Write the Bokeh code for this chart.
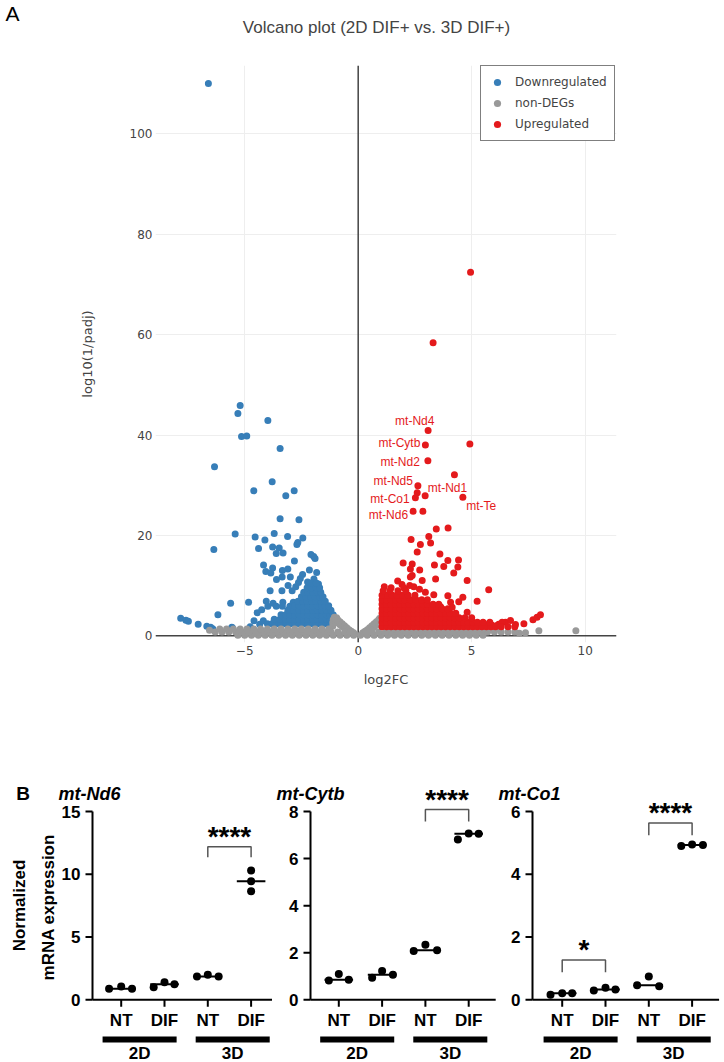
import numpy as np
from bokeh.plotting import figure
from bokeh.models import Range1d, Legend, LegendItem, Span, FixedTicker, ColumnDataSource
from bokeh.layouts import column, row
from bokeh.core.properties import value
from bokeh.embed import file_html
from bokeh.resources import INLINE

# ===================== Panel A data (log2FC, log10(1/padj)) =====================
down_points = [
    (-6.60, 110.0), (-5.20, 45.9), (-5.30, 44.3), (-3.98, 42.9), (-5.14, 39.7), (-4.91, 39.8),
    (-3.44, 37.3), (-6.33, 33.7), (-3.79, 30.7), (-4.60, 28.9), (-2.82, 28.9), (-3.19, 27.9),
    (-3.44, 23.3), (-2.61, 23.1), (-5.42, 20.3), (-3.70, 20.4), (-4.54, 19.7), (-3.11, 19.8),
    (-2.44, 19.5), (-4.11, 19.1), (-2.66, 18.6), (-2.70, 18.2), (-6.36, 17.2), (-4.39, 17.4),
    (-3.77, 17.7), (-3.48, 17.5), (-3.61, 16.4), (-3.31, 16.5), (-2.08, 16.2), (-1.96, 15.8),
    (-1.90, 15.4), (-2.81, 14.9), (-4.17, 14.1), (-4.07, 12.8), (-3.77, 13.5), (-3.85, 12.5),
    (-3.34, 13.0), (-3.10, 13.3), (-2.15, 13.1), (-1.83, 12.6), (-2.45, 12.2), (-3.35, 11.7),
    (-3.60, 11.2), (-2.99, 11.7), (-2.63, 10.6), (-2.23, 10.7), (-3.36, 9.0), (-3.09, 10.0),
    (-3.88, 9.0), (-2.91, 9.0), (-5.62, 6.5), (-4.83, 6.7), (-6.18, 4.2), (-7.82, 3.5),
    (-7.59, 3.1), (-7.48, 2.9), (-7.05, 2.3), (-6.67, 1.9), (-6.50, 1.7), (-6.41, 1.4),
    (-5.54, 1.6), (-4.05, 6.9), (-3.98, 5.9), (-3.75, 6.5), (-3.61, 5.9), (-4.59, 3.0),
    (-4.76, 1.8), (-5.57, 1.7), (-4.34, 2.3), (-4.18, 3.0), (-3.32, 6.7), (-3.34, 5.9),
    (-3.01, 5.9), (-2.86, 6.7), (-4.45, 4.6), (-4.25, 5.2), (-2.55, 11.4), (-1.95, 11.3),
    (-1.75, 10.3), (-2.75, 9.8),
]
down_rows = [
    (2.4, [-4.0, -3.8, -3.6, -3.4, -3.2, -3.0, -2.8, -2.6, -2.4, -2.2, -2.0, -1.8, -1.6, -1.4, -1.25, -1.1]),
    (3.3, [-3.7, -3.45, -3.2, -3.0, -2.8, -2.6, -2.4, -2.2, -2.0, -1.8, -1.6, -1.4, -1.25, -1.1]),
    (4.2, [-3.4, -3.2, -3.0, -2.8, -2.6, -2.4, -2.2, -2.0, -1.8, -1.6, -1.4, -1.25, -1.1]),
    (5.1, [-3.1, -2.85, -2.6, -2.4, -2.2, -2.0, -1.8, -1.6, -1.4, -1.2]),
    (6.0, [-2.8, -2.6, -2.4, -2.2, -2.0, -1.8, -1.6, -1.45, -1.3]),
    (6.9, [-2.65, -2.45, -2.25, -2.05, -1.85, -1.65, -1.45]),
    (7.8, [-2.5, -2.3, -2.1, -1.9, -1.7, -1.55]),
    (8.7, [-2.4, -2.2, -2.0, -1.8, -1.65]),
    (9.6, [-2.25, -2.05, -1.85, -1.7]),
    (10.5, [-2.1, -1.85]),
]
nondeg_points = [
    (7.10, 0.5), (7.37, 0.6), (7.96, 1.0), (9.59, 1.0), (-6.55, 1.1),
    (-1.12, 1.9), (-1.12, 2.6), (-1.10, 3.2), (-1.05, 3.7), (-1.00, 3.0), (-0.95, 3.6),
    (-0.90, 2.6), (-0.90, 3.2), (-0.80, 2.2), (-0.80, 2.8), (-0.70, 1.8), (-0.70, 2.4),
    (-0.60, 2.0), (-0.50, 1.6), (-0.40, 1.2), (-0.30, 0.9), (-0.20, 0.6), (0.20, 0.6),
    (0.30, 0.9), (0.40, 1.2), (0.50, 1.6), (0.60, 2.0), (0.70, 1.7), (0.70, 2.4),
    (0.80, 2.1), (0.80, 2.8), (0.90, 2.5), (0.90, 3.2), (0.95, 3.5),
]
nondeg_rows = [
    (0.1, [-5.3, -5.0, -4.7, -4.4, -4.1, -3.8, -3.5, -3.2, -2.9, -2.6, -2.3, -2.0, -1.7, -1.4, -1.1,
           -0.8, -0.5, -0.2, 0.1, 0.4, 0.7, 1.0, 1.3, 1.6, 1.9, 2.2, 2.5, 2.8, 3.1, 3.4, 3.7, 4.0,
           4.3, 4.6, 4.9, 5.2, 5.5]),
    (0.75, [-6.3, -6.0, -5.7, -5.4, -5.1, -4.8, -4.5, -4.2, -3.9, -3.6, -3.3, -3.0, -2.7, -2.4, -2.1,
            -1.8, -1.5, -1.2, -0.9, -0.6, -0.35, 0.35, 0.6, 0.9, 1.2, 1.5, 1.8, 2.1, 2.4, 2.7, 3.0,
            3.3, 3.6, 3.9, 4.2, 4.5, 4.8, 5.1, 5.4, 5.7, 6.0, 6.3, 6.6, 6.9]),
    (1.35, [-6.1, -5.8, -5.5, -5.2, -4.9, -4.6, -4.3, -4.0, -3.7, -3.4, -3.1, -2.8, -2.5, -2.2, -1.9,
            -1.6, -1.3, 1.3, 1.6, 1.9, 2.2, 2.5, 2.8, 3.1, 3.4, 3.7, 4.0, 4.3, 4.6, 4.9, 5.2, 5.5,
            5.8, 6.1]),
]
up_points = [
    (4.95, 72.4), (3.30, 58.4), (2.60, 28.5), (4.92, 38.2), (4.24, 32.1), (2.85, 24.8),
    (3.44, 21.3), (3.96, 21.5), (3.11, 19.8), (2.33, 19.2), (2.74, 18.2), (3.19, 18.5),
    (2.60, 16.7), (3.60, 16.3), (3.95, 15.0), (4.42, 15.1), (1.98, 14.5), (2.38, 14.3),
    (2.30, 13.3), (3.36, 14.1), (3.77, 13.8), (4.39, 13.7), (2.71, 13.1), (4.21, 12.5),
    (2.38, 12.0), (2.82, 11.0), (3.41, 11.3), (4.80, 11.0), (1.74, 10.9), (1.93, 10.2),
    (2.01, 9.6), (2.30, 11.7), (2.27, 10.0), (2.45, 9.8), (2.96, 8.7), (3.33, 8.2),
    (3.95, 8.0), (4.61, 7.7), (5.75, 9.2), (5.24, 6.9), (4.07, 6.7), (4.43, 6.8),
    (3.63, 5.8), (4.14, 5.7), (4.80, 4.7), (5.53, 2.5), (5.90, 2.1), (6.19, 2.3),
    (6.49, 2.7), (6.12, 2.05), (6.34, 2.7), (6.71, 3.05), (6.93, 2.25), (7.30, 2.4),
    (7.70, 3.2), (7.88, 3.7), (8.03, 4.2), (1.15, 9.8), (1.45, 9.6), (2.70, 9.3),
]
up_rows = [
    (1.8, [1.05, 1.25, 1.45, 1.65, 1.85, 2.05, 2.25, 2.45, 2.65, 2.85, 3.05, 3.25, 3.45, 3.65, 3.85,
           4.05, 4.25, 4.45, 4.65, 4.85, 5.05, 5.25, 5.45, 5.65, 5.85, 6.05, 6.3, 6.6, 6.9]),
    (2.7, [1.05, 1.25, 1.45, 1.65, 1.85, 2.05, 2.25, 2.45, 2.65, 2.85, 3.05, 3.25, 3.45, 3.65, 3.85,
           4.05, 4.25, 4.45, 4.65, 4.85, 5.05, 5.25, 5.5, 5.8]),
    (3.6, [1.05, 1.25, 1.45, 1.65, 1.85, 2.05, 2.25, 2.45, 2.65, 2.85, 3.05, 3.25, 3.45, 3.65, 3.85,
           4.05, 4.25, 4.45, 4.7, 5.0]),
    (4.5, [1.05, 1.25, 1.45, 1.65, 1.85, 2.05, 2.25, 2.45, 2.65, 2.85, 3.05, 3.25, 3.45, 3.65, 3.85,
           4.05, 4.3]),
    (5.4, [1.05, 1.25, 1.45, 1.65, 1.85, 2.05, 2.25, 2.45, 2.65, 2.85, 3.05, 3.25, 3.45, 3.7, 3.95]),
    (6.3, [1.05, 1.25, 1.45, 1.65, 1.85, 2.05, 2.25, 2.45, 2.65, 2.85, 3.05, 3.3, 3.55]),
    (7.2, [1.05, 1.25, 1.45, 1.65, 1.85, 2.05, 2.3, 2.55, 2.8, 3.05]),
    (8.1, [1.05, 1.3, 1.5, 1.7, 1.95, 2.2, 2.5]),
    (9.0, [1.1, 1.4, 1.75, 2.1]),
]
gene_names = ["mt-Nd4", "mt-Cytb", "mt-Nd2", "mt-Nd5", "mt-Co1", "mt-Nd6", "mt-Nd1", "mt-Te"]
gene_x = [3.08, 2.96, 3.07, 2.63, 2.52, 2.42, 2.95, 4.61]
gene_y = [40.9, 38.0, 34.9, 29.9, 27.5, 24.8, 27.9, 27.6]
legend_labels = ["Downregulated", "non-DEGs", "Upregulated"]
x_ticks_A = [-5, 0, 5, 10]
y_ticks_A = [0, 20, 40, 60, 80, 100]
title_A = "Volcano plot (2D DIF+ vs. 3D DIF+)"

# ===================== Panel B data (normalized mRNA expression) =====================
conditions = ["NT", "DIF", "NT", "DIF"]
cultures = ["2D", "3D"]
genes_B = ["mt-Nd6", "mt-Cytb", "mt-Co1"]
nd6_values = [[0.88, 1.06, 0.88], [1.00, 1.40, 1.24], [1.86, 2.00, 1.86], [10.30, 9.45, 8.65]]
cytb_values = [[0.82, 1.10, 0.85], [0.94, 1.22, 1.06], [2.07, 2.34, 2.10], [6.81, 7.07, 7.05]]
co1_values = [[0.16, 0.21, 0.21], [0.30, 0.38, 0.33], [0.46, 0.74, 0.43], [4.90, 4.95, 4.93]]
y_max_B = [15, 8, 6]
y_step_B = [5, 2, 2]
# significance brackets: (group a, group b, bracket top, leg bottom, label)
nd6_sig = [(2, 3, 12.2, 11.36, "****")]
cytb_sig = [(2, 3, 8.08, 7.57, "****")]
co1_sig = [(0, 1, 1.27, 0.88, "*"), (2, 3, 5.63, 5.24, "****")]
y_label_B = ["Normalized", "mRNA expression"]

# ----- styling / layout -----
BLUE, GREY, RED = "#377eb8", "#999999", "#e41a1c"
TXT = "#444444"
label_dx = [6.3, -5, -8, -5, -5.7, -5, 2.7, 3.3]
label_dy = [-9.3, -2, 1, -4.7, 1.7, 4, -7.3, 8.7]
label_right = [True, True, True, True, True, True, False, False]
jitter_B = [
    [[-0.28, 0, 0.25], [-0.25, 0, 0.23], [-0.25, 0, 0.25], [0, 0, 0]],
    [[-0.23, 0, 0.23], [-0.23, 0, 0.25], [-0.27, 0, 0.27], [-0.25, 0, 0.23]],
    [[-0.27, 0, 0.23], [-0.27, 0, 0.23], [-0.27, 0, 0.24], [-0.25, 0, 0.25]],
]


def expand(points, rows):
    xs = [p[0] for p in points]
    ys = [p[1] for p in points]
    for yv, row_xs in rows:
        xs.extend(row_xs)
        ys.extend([yv] * len(row_xs))
    return xs, ys


# ===================== Header of panel A ("A" + title) =====================
hdr = figure(width=724, height=65, title=None, x_range=Range1d(0, 724), y_range=Range1d(65, 0),
             x_axis_type=None, y_axis_type=None, min_border=0,
             min_border_left=0, min_border_right=0, min_border_top=0, min_border_bottom=0,
             output_backend="svg", toolbar_location=None)
hdr.outline_line_color = None
hdr.text(x=[5], y=[1], text=["A"], text_align="left", text_baseline="top",
         text_font=value("Liberation Sans"), text_font_size="21px", text_color="black")
hdr.text(x=[376], y=[27], text=[title_A], text_align="center", text_baseline="middle",
         text_font=value("Liberation Sans"), text_font_size="17px", text_color=TXT)

# ===================== Panel A =====================
pA = figure(width=724, height=705, title=None,
            x_range=Range1d(-8.93, 11.38), y_range=Range1d(-1.33, 113.61),
            min_border_left=155, min_border_right=108, min_border_top=0, min_border_bottom=128,
            output_backend="svg", toolbar_location=None)
pA.outline_line_color = None
pA.xgrid.grid_line_color = "#eeeeee"
pA.ygrid.grid_line_color = "#eeeeee"
pA.xaxis.ticker = FixedTicker(ticks=x_ticks_A)
pA.xaxis.major_label_overrides = {-5: "\u22125"}
pA.yaxis.ticker = FixedTicker(ticks=y_ticks_A)
for ax in (pA.xaxis[0], pA.yaxis[0]):
    ax.axis_line_color = None
    ax.major_tick_line_color = None
    ax.minor_tick_line_color = None
    ax.major_tick_out = 0
    ax.major_tick_in = 0
    ax.major_label_text_font = "DejaVu Sans"
    ax.major_label_text_font_size = "12px"
    ax.major_label_text_color = TXT
    ax.major_label_standoff = 3
    ax.axis_label_text_font = "DejaVu Sans"
    ax.axis_label_text_font_size = "13px"
    ax.axis_label_text_font_style = "normal"
    ax.axis_label_text_color = TXT
pA.xaxis.axis_label = "log2FC"
pA.xaxis.axis_label_standoff = 14
pA.yaxis.axis_label = "log10(1/padj)"
pA.yaxis.axis_label_standoff = 32

pA.add_layout(Span(location=0, dimension="height", line_color=TXT, line_width=1.5, level="underlay"))
pA.add_layout(Span(location=0, dimension="width", line_color=TXT, line_width=1.5, level="underlay"))

dx, dy = expand(down_points, down_rows)
r_down = pA.scatter(dx, dy, size=7, fill_color=BLUE, line_color=None)
gx, gy = expand(nondeg_points, nondeg_rows)
r_grey = pA.scatter(gx, gy, size=7, fill_color=GREY, line_color=None)
ux, uy = expand(up_points, up_rows)
r_up = pA.scatter(ux + gene_x, uy + gene_y, size=7, fill_color=RED, line_color=None)

for right in (True, False):
    idx = [i for i in range(len(gene_names)) if label_right[i] == right]
    src = ColumnDataSource(dict(x=[gene_x[i] for i in idx], y=[gene_y[i] for i in idx],
                                t=[gene_names[i] for i in idx],
                                ox=[label_dx[i] for i in idx], oy=[label_dy[i] for i in idx]))
    pA.text(x="x", y="y", text="t", x_offset="ox", y_offset="oy", source=src,
            text_align="right" if right else "left", text_baseline="middle",
            text_font=value("Liberation Sans"), text_font_size="12px", text_color=RED)

legend = Legend(items=[LegendItem(label=legend_labels[0], renderers=[r_down]),
                       LegendItem(label=legend_labels[1], renderers=[r_grey]),
                       LegendItem(label=legend_labels[2], renderers=[r_up])],
                location=(325, 501), orientation="vertical", margin=0, padding=7, spacing=3,
                glyph_width=18, glyph_height=18, label_height=18, label_standoff=9,
                label_text_font="DejaVu Sans", label_text_font_size="12px", label_text_color=TXT,
                border_line_color="black", border_line_width=1,
                background_fill_color="white", background_fill_alpha=1.0)
pA.add_layout(legend)

# ===================== Panel B =====================
B_H = 292          # canvas height (page y 770..1062)
AX0 = 229.3        # canvas y of value 0
AXTOP = 41.0       # canvas y of the top tick
S = 43.3           # px per category
B_W = [272, 224, 228]
B_NT = [120.7, 66.3, 65.7]    # first category, px from canvas left
B_AX = [92.0, 38.0, 36.0]     # y axis, px from canvas left
values_B = [nd6_values, cytb_values, co1_values]
sigs_B = [nd6_sig, cytb_sig, co1_sig]
BF = "Liberation Sans"


def panel_B(i):
    vals = values_B[i]
    jit = jitter_B[i]
    ymax, step = y_max_B[i], y_step_B[i]
    w = B_W[i]
    ppu = (AX0 - AXTOP) / ymax
    x0 = -B_NT[i] / S
    axx = (B_AX[i] - B_NT[i]) / S
    p = figure(width=w, height=B_H, title=None,
               x_range=Range1d(x0, x0 + w / S),
               y_range=Range1d(-(B_H - AX0) / ppu, AX0 / ppu),
               x_axis_type=None, y_axis_type=None, min_border=0,
               output_backend="svg", toolbar_location=None)
    p.extra_y_ranges = {"px": Range1d(-(B_H - AX0), AX0)}
    p.outline_line_color = None

    tf = dict(text_font=value(BF), text_font_style="bold", text_font_size="17px",
              text_color="black", text_align="center", text_baseline="middle")
    # y axis
    ticks = list(range(0, ymax + 1, step))
    p.segment(x0=[axx], y0=[0], x1=[axx], y1=[ymax], line_width=2, line_color="black")
    p.segment(x0=[axx - 7 / S] * len(ticks), y0=ticks, x1=[axx] * len(ticks), y1=ticks,
              line_width=2, line_color="black")
    p.text(x=[axx] * len(ticks), y=ticks, text=[str(t) for t in ticks], x_offset=-12,
           text_font=value(BF), text_font_style="bold", text_font_size="17px",
           text_color="black", text_align="right", text_baseline="middle")
    # x axis line, ticks and labels
    cat_pos = list(range(len(conditions)))
    p.segment(x0=[axx], y0=[0], x1=[3 + 27 / S], y1=[0], line_width=2, line_color="black")
    p.segment(x0=cat_pos, y0=[0] * 4, x1=cat_pos, y1=[-7] * 4, y_range_name="px",
              line_width=2, line_color="black")
    p.text(x=cat_pos, y=[-20.7] * 4, text=conditions, y_range_name="px", **tf)
    p.segment(x0=[-0.43, 1.72], y0=[-39.7] * 2, x1=[1.28, 3.43], y1=[-39.7] * 2, y_range_name="px",
              line_width=6, line_color="black")
    p.text(x=[0.425, 2.575], y=[-53.7] * 2, text=cultures, y_range_name="px", **tf)

    # points and medians
    xs, ys = [], []
    for g in range(4):
        for k, v in enumerate(vals[g]):
            xs.append(g + jit[g][k])
            ys.append(v)
    p.scatter(xs, ys, size=8, fill_color="black", line_color=None)
    meds = [float(np.median(v)) for v in vals]
    p.segment(x0=[g - 0.33 for g in range(4)], y0=meds, x1=[g + 0.33 for g in range(4)], y1=meds,
              line_width=2, line_color="black")

    # significance
    for (a, b, top, leg, lab) in sigs_B[i]:
        p.line([a, a, b, b], [leg, top, top, leg], line_color="#555555", line_width=1.5)
        p.text(x=[(a + b) / 2], y=[top], text=[lab], y_offset=-10.5, text_font=value(BF),
               text_font_style="bold", text_font_size="28px", text_color="black",
               text_align="center", text_baseline="middle")

    # titles
    p.text(x=[(B_AX[i] - 34 - B_NT[i]) / S], y=[206.3], text=[genes_B[i]], y_range_name="px",
           text_font=value(BF), text_font_style="bold italic", text_font_size="18px",
           text_color="black", text_align="left", text_baseline="middle")
    if i == 0:
        p.text(x=[(22.7 - B_NT[0]) / S], y=[206.3], text=["B"], y_range_name="px",
               text_font=value(BF), text_font_style="bold", text_font_size="19px",
               text_color="black", text_align="center", text_baseline="middle")
        p.text(x=[(18.8 - B_NT[0]) / S, (48.3 - B_NT[0]) / S], y=[94.3, 92.6], text=y_label_B,
               y_range_name="px", angle=np.pi / 2, **tf)
    return p


pB = [panel_B(i) for i in range(3)]
layout = column(row(hdr), pA, row(*pB))
open("out.html", "w").write(file_html(layout, INLINE))
